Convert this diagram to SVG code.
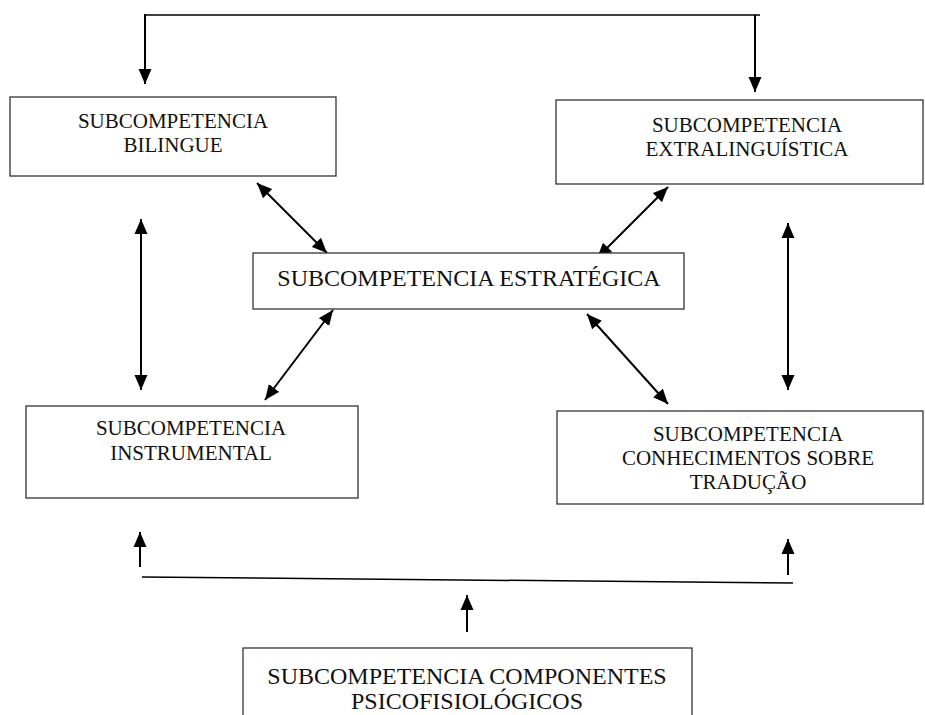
<svg xmlns="http://www.w3.org/2000/svg" width="925" height="715" viewBox="0 0 925 715">
<style>
.box{fill:#fff;stroke:#333;stroke-width:1.3}
.t{font-family:"Liberation Serif","Times New Roman",serif;font-size:21px;fill:#111;text-anchor:middle}
.t24{font-size:24px}
.c{fill:none;stroke:#000;stroke-width:2}
.thin{fill:none;stroke:#000;stroke-width:1.5}
</style>
<defs>
<marker id="ah" markerUnits="userSpaceOnUse" markerWidth="16" markerHeight="14" refX="15" refY="7" orient="auto-start-reverse" viewBox="0 0 16 14">
<path d="M0,0.5 L15,7 L0,13.5 z" fill="#000"/>
</marker>
</defs>
<rect width="925" height="715" fill="#fff"/>
<g id="connectors">
<polyline class="thin" points="145,20 145,15 760,15"/>
<line class="c" x1="145" y1="14" x2="145" y2="84" marker-end="url(#ah)"/>
<line class="c" x1="755" y1="15" x2="755" y2="92" marker-end="url(#ah)"/>
<line class="c" x1="257" y1="183" x2="327" y2="253" marker-start="url(#ah)" marker-end="url(#ah)"/>
<line class="c" x1="668" y1="187" x2="597" y2="258" marker-start="url(#ah)" marker-end="url(#ah)"/>
<line class="c" x1="333" y1="310" x2="265" y2="400" marker-start="url(#ah)" marker-end="url(#ah)"/>
<line class="c" x1="587" y1="314" x2="668" y2="404" marker-start="url(#ah)" marker-end="url(#ah)"/>
<line class="c" x1="141" y1="219" x2="141" y2="390" marker-start="url(#ah)" marker-end="url(#ah)"/>
<line class="c" x1="788" y1="223" x2="788" y2="390" marker-start="url(#ah)" marker-end="url(#ah)"/>
<line class="thin" x1="142" y1="577" x2="793" y2="583"/>
<line class="c" x1="140" y1="567" x2="140" y2="532" marker-end="url(#ah)"/>
<line class="c" x1="788" y1="575" x2="788" y2="539" marker-end="url(#ah)"/>
<line class="c" x1="467" y1="632" x2="467" y2="595" marker-end="url(#ah)"/>
</g>
<g id="bilingue">
<rect class="box" x="10" y="97" width="326" height="79"/>
<text class="t" x="173" y="128">SUBCOMPETENCIA</text>
<text class="t" x="173" y="152">BILINGUE</text>
</g>
<g id="extralinguistica">
<rect class="box" x="556" y="100" width="367" height="84"/>
<text class="t" x="747" y="132">SUBCOMPETENCIA</text>
<text class="t" x="747" y="156">EXTRALINGUÍSTICA</text>
</g>
<g id="estrategica">
<rect class="box" x="253" y="253" width="431" height="56"/>
<text class="t t24" x="469" y="286">SUBCOMPETENCIA ESTRATÉGICA</text>
</g>
<g id="instrumental">
<rect class="box" x="26" y="406" width="332" height="92"/>
<text class="t" x="191" y="435">SUBCOMPETENCIA</text>
<text class="t" x="191" y="460">INSTRUMENTAL</text>
</g>
<g id="conhecimentos">
<rect class="box" x="557" y="411" width="366" height="93"/>
<text class="t" x="748" y="441">SUBCOMPETENCIA</text>
<text class="t" x="748" y="465">CONHECIMENTOS SOBRE</text>
<text class="t" x="748" y="489">TRADUÇÃO</text>
</g>
<g id="psicofisiologicos">
<rect class="box" x="243" y="648" width="449" height="80"/>
<text class="t t24" x="467" y="684">SUBCOMPETENCIA COMPONENTES</text>
<text class="t t24" x="467" y="709">PSICOFISIOLÓGICOS</text>
</g>
</svg>
